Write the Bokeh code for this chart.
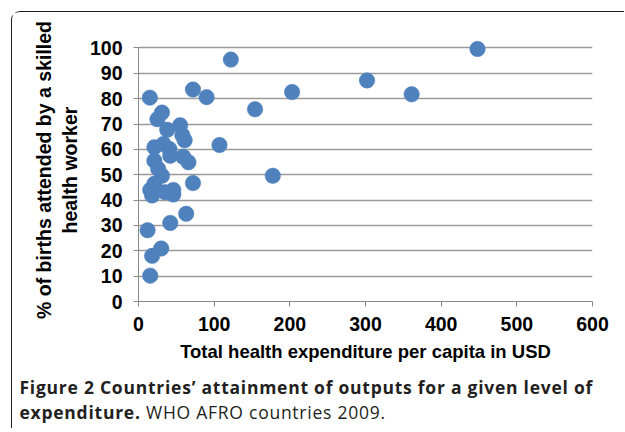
from bokeh.plotting import figure
from bokeh.models import Range1d, FixedTicker, Div
from bokeh.layouts import column
from bokeh.embed import file_html
from bokeh.resources import INLINE

# Data
expenditure = [122, 15, 72, 90, 31, 25, 55, 38, 58, 61, 107, 21, 33, 41, 42, 59, 66, 21,
               26, 31, 72, 21, 15.5, 46, 18, 35, 46, 63, 42, 12, 30, 18, 15.5,
               448, 302, 361, 203, 154, 177.5]
skilled_births = [95.4, 80.4, 83.6, 80.6, 74.5, 71.9, 69.5, 67.7, 65.6, 63.6, 61.7, 60.8, 62.1,
                  60.1, 57.5, 57.1, 54.9, 55.5, 52.3, 49.6, 46.7, 46.4, 44, 44, 41.8, 43.1,
                  42.2, 34.6, 31, 28.1, 20.9, 18, 10.2,
                  99.6, 87.2, 81.7, 82.6, 75.8, 49.6]
x_ticks = [0, 100, 200, 300, 400, 500, 600]
y_ticks = [0, 10, 20, 30, 40, 50, 60, 70, 80, 90, 100]

x_title = "Total health expenditure per capita in USD"
y_title = "% of births attended by a skilled\nhealth worker"
caption_bold_1 = "Figure 2 Countries\u2019 attainment of outputs for a given level of"
caption_bold_2 = "expenditure."
caption_rest = "WHO AFRO countries 2009."

OFF = 12.5          # left/top offset of the framed box (margin + border)
PW, PH = 612, 352
BL, BR, BT, BB = 126, 32, 26, 62
Y_TOP = 100 + (48 - (OFF + BT)) / 2.55

p = figure(width=PW, height=PH, output_backend="svg", toolbar_location=None,
           x_range=Range1d(0, 600), y_range=Range1d(0, Y_TOP),
           min_border_left=BL, min_border_right=BR,
           min_border_top=BT, min_border_bottom=BB)
p.outline_line_color = None
p.background_fill_color = "white"
p.border_fill_color = "white"

grid_col = "#9a9a9a"
axis_col = "#8a8a8a"
p.xgrid.visible = False
p.ygrid.grid_line_color = grid_col
p.ygrid.grid_line_width = 1.3
p.ygrid.ticker = FixedTicker(ticks=y_ticks)

p.xaxis.ticker = FixedTicker(ticks=x_ticks)
p.yaxis.ticker = FixedTicker(ticks=y_ticks)
p.yaxis.bounds = (0, 100)
for ax in (p.xaxis[0], p.yaxis[0]):
    ax.axis_line_color = axis_col
    ax.major_tick_line_color = axis_col
    ax.major_tick_in = 0
    ax.major_tick_out = 5
    ax.minor_tick_line_color = None
    ax.major_label_text_font = "Liberation Sans"
    ax.major_label_text_font_style = "bold"
    ax.major_label_text_font_size = "19.5px"
    ax.major_label_text_color = "black"
    ax.axis_label_text_font = "Liberation Sans"
    ax.axis_label_text_font_style = "bold"
    ax.axis_label_text_color = "black"
p.xaxis.major_label_standoff = 10
p.yaxis.major_label_standoff = 11

p.xaxis.axis_label = x_title
p.xaxis.axis_label_text_font_size = "18.5px"
p.xaxis.axis_label_standoff = 7
p.yaxis.axis_label = y_title
p.yaxis.axis_label_text_font_size = "19.5px"
p.yaxis.axis_label_standoff = 6

p.scatter(expenditure, skilled_births, size=15.5, fill_color="#4F81BD",
          line_color="#4F81BD", line_width=0.5)

cap_style = ("font-family:'Open Sans';font-size:17.5px;letter-spacing:0.75px;"
             "line-height:25px;color:#231f20;white-space:nowrap;"
             "padding:11px 0 0 7.5px;margin:0;")
cap_html = (f'<div style="{cap_style}"><b>{caption_bold_1}</b><br>'
            f'<b>{caption_bold_2}</b> {caption_rest}</div>')
cap = Div(text=cap_html, width=PW, height=64, margin=0)

layout = column(p, cap, margin=(11, 0, 0, 11), spacing=0,
                styles={"border-left": "1.5px solid #231f20",
                        "border-top": "1.5px solid #231f20",
                        "border-top-left-radius": "9px",
                        "background": "white"})

open("out.html", "w").write(file_html(layout, INLINE))
